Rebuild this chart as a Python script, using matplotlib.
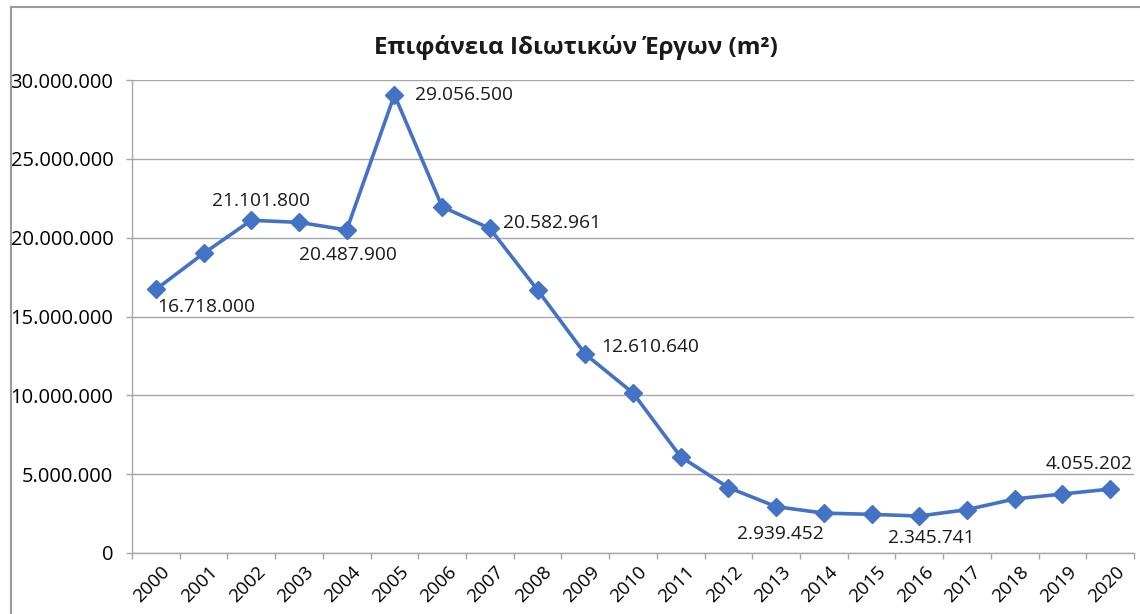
import matplotlib
matplotlib.use("Agg")
import matplotlib.pyplot as plt
import matplotlib.transforms as mtrans
from matplotlib.ticker import FuncFormatter, MultipleLocator, FixedLocator
from matplotlib.lines import Line2D

years = [str(y) for y in range(2000, 2021)]
area = [16718000, 19000000, 21101800, 20970000, 20487900, 29056500, 21960000,
        20582961, 16680000, 12610640, 10150000, 6100000, 4150000, 2939452,
        2530000, 2450000, 2345741, 2750000, 3430000, 3740000, 4055202]

# which points get a value label, and the offset (points) of the label centre
labelled = {0: (36, -13), 2: (7, 14), 4: (1, -18), 5: (50, 0), 7: (45, 4),
            9: (47, 5), 13: (3, -20), 16: (9, -16), 20: (-15, 18)}

plt.rcParams['font.family'] = ['Open Sans', 'DejaVu Sans']

def dots(v, pos=None):
    return f"{int(round(v)):,}".replace(",", ".")

fig = plt.figure(figsize=(11.4, 6.14), dpi=100)
ax = fig.add_axes([132/1140, 1 - 553/614, (1134 - 132)/1140, (553 - 80)/614])

x = list(range(len(years)))
ax.plot(x, area, color='#4472C4', lw=2.6, marker='D', ms=9,
        markeredgecolor='#4472C4', solid_joinstyle='round', zorder=3)

for i, (dx, dy) in labelled.items():
    ax.annotate(dots(area[i]), (x[i], area[i]), xytext=(dx, dy),
                textcoords='offset points', ha='center', va='center',
                fontsize=13.8, color='#1a1a1a')

ax.set_xlim(-0.5, len(years) - 0.5)
ax.set_ylim(0, 30000000)
ax.yaxis.set_major_locator(MultipleLocator(5000000))
ax.yaxis.set_major_formatter(FuncFormatter(dots))
ax.grid(axis='y', color='#a6a6a6', lw=1)
ax.set_axisbelow(True)

ax.set_xticks(x)
ax.set_xticklabels(years, rotation=45, ha='right', rotation_mode='anchor', fontsize=13.5)
ax.xaxis.set_minor_locator(FixedLocator([i - 0.5 for i in range(len(years) + 1)]))
ax.tick_params(axis='x', which='major', length=0, pad=7)
ax.tick_params(axis='x', which='minor', length=4.5, color='#a6a6a6', width=1)
ax.tick_params(axis='y', length=4.5, color='#a6a6a6', width=1, labelsize=14.5, pad=9)
off = mtrans.ScaledTranslation(5/100, 0, fig.dpi_scale_trans)
for lbl in ax.get_xticklabels():
    lbl.set_transform(lbl.get_transform() + off)

for s in ['top', 'right']:
    ax.spines[s].set_visible(False)
for s in ['left', 'bottom']:
    ax.spines[s].set_color('#a6a6a6')
    ax.spines[s].set_linewidth(1)

fig.text(576/1140, 1 - 48/614, 'Επιφάνεια Ιδιωτικών Έργων (m²)', ha='center',
         va='center', fontsize=17.5, fontweight='bold', color='#1a1a1a')

# chart frame (left and top edges visible)
fig.add_artist(Line2D([11/1140, 11/1140], [0, 1 - 7/614], color='#9a9a9a', lw=1.5))
fig.add_artist(Line2D([11/1140, 1], [1 - 7/614, 1 - 7/614], color='#9a9a9a', lw=1.5))

fig.savefig('out.png', dpi=100)
